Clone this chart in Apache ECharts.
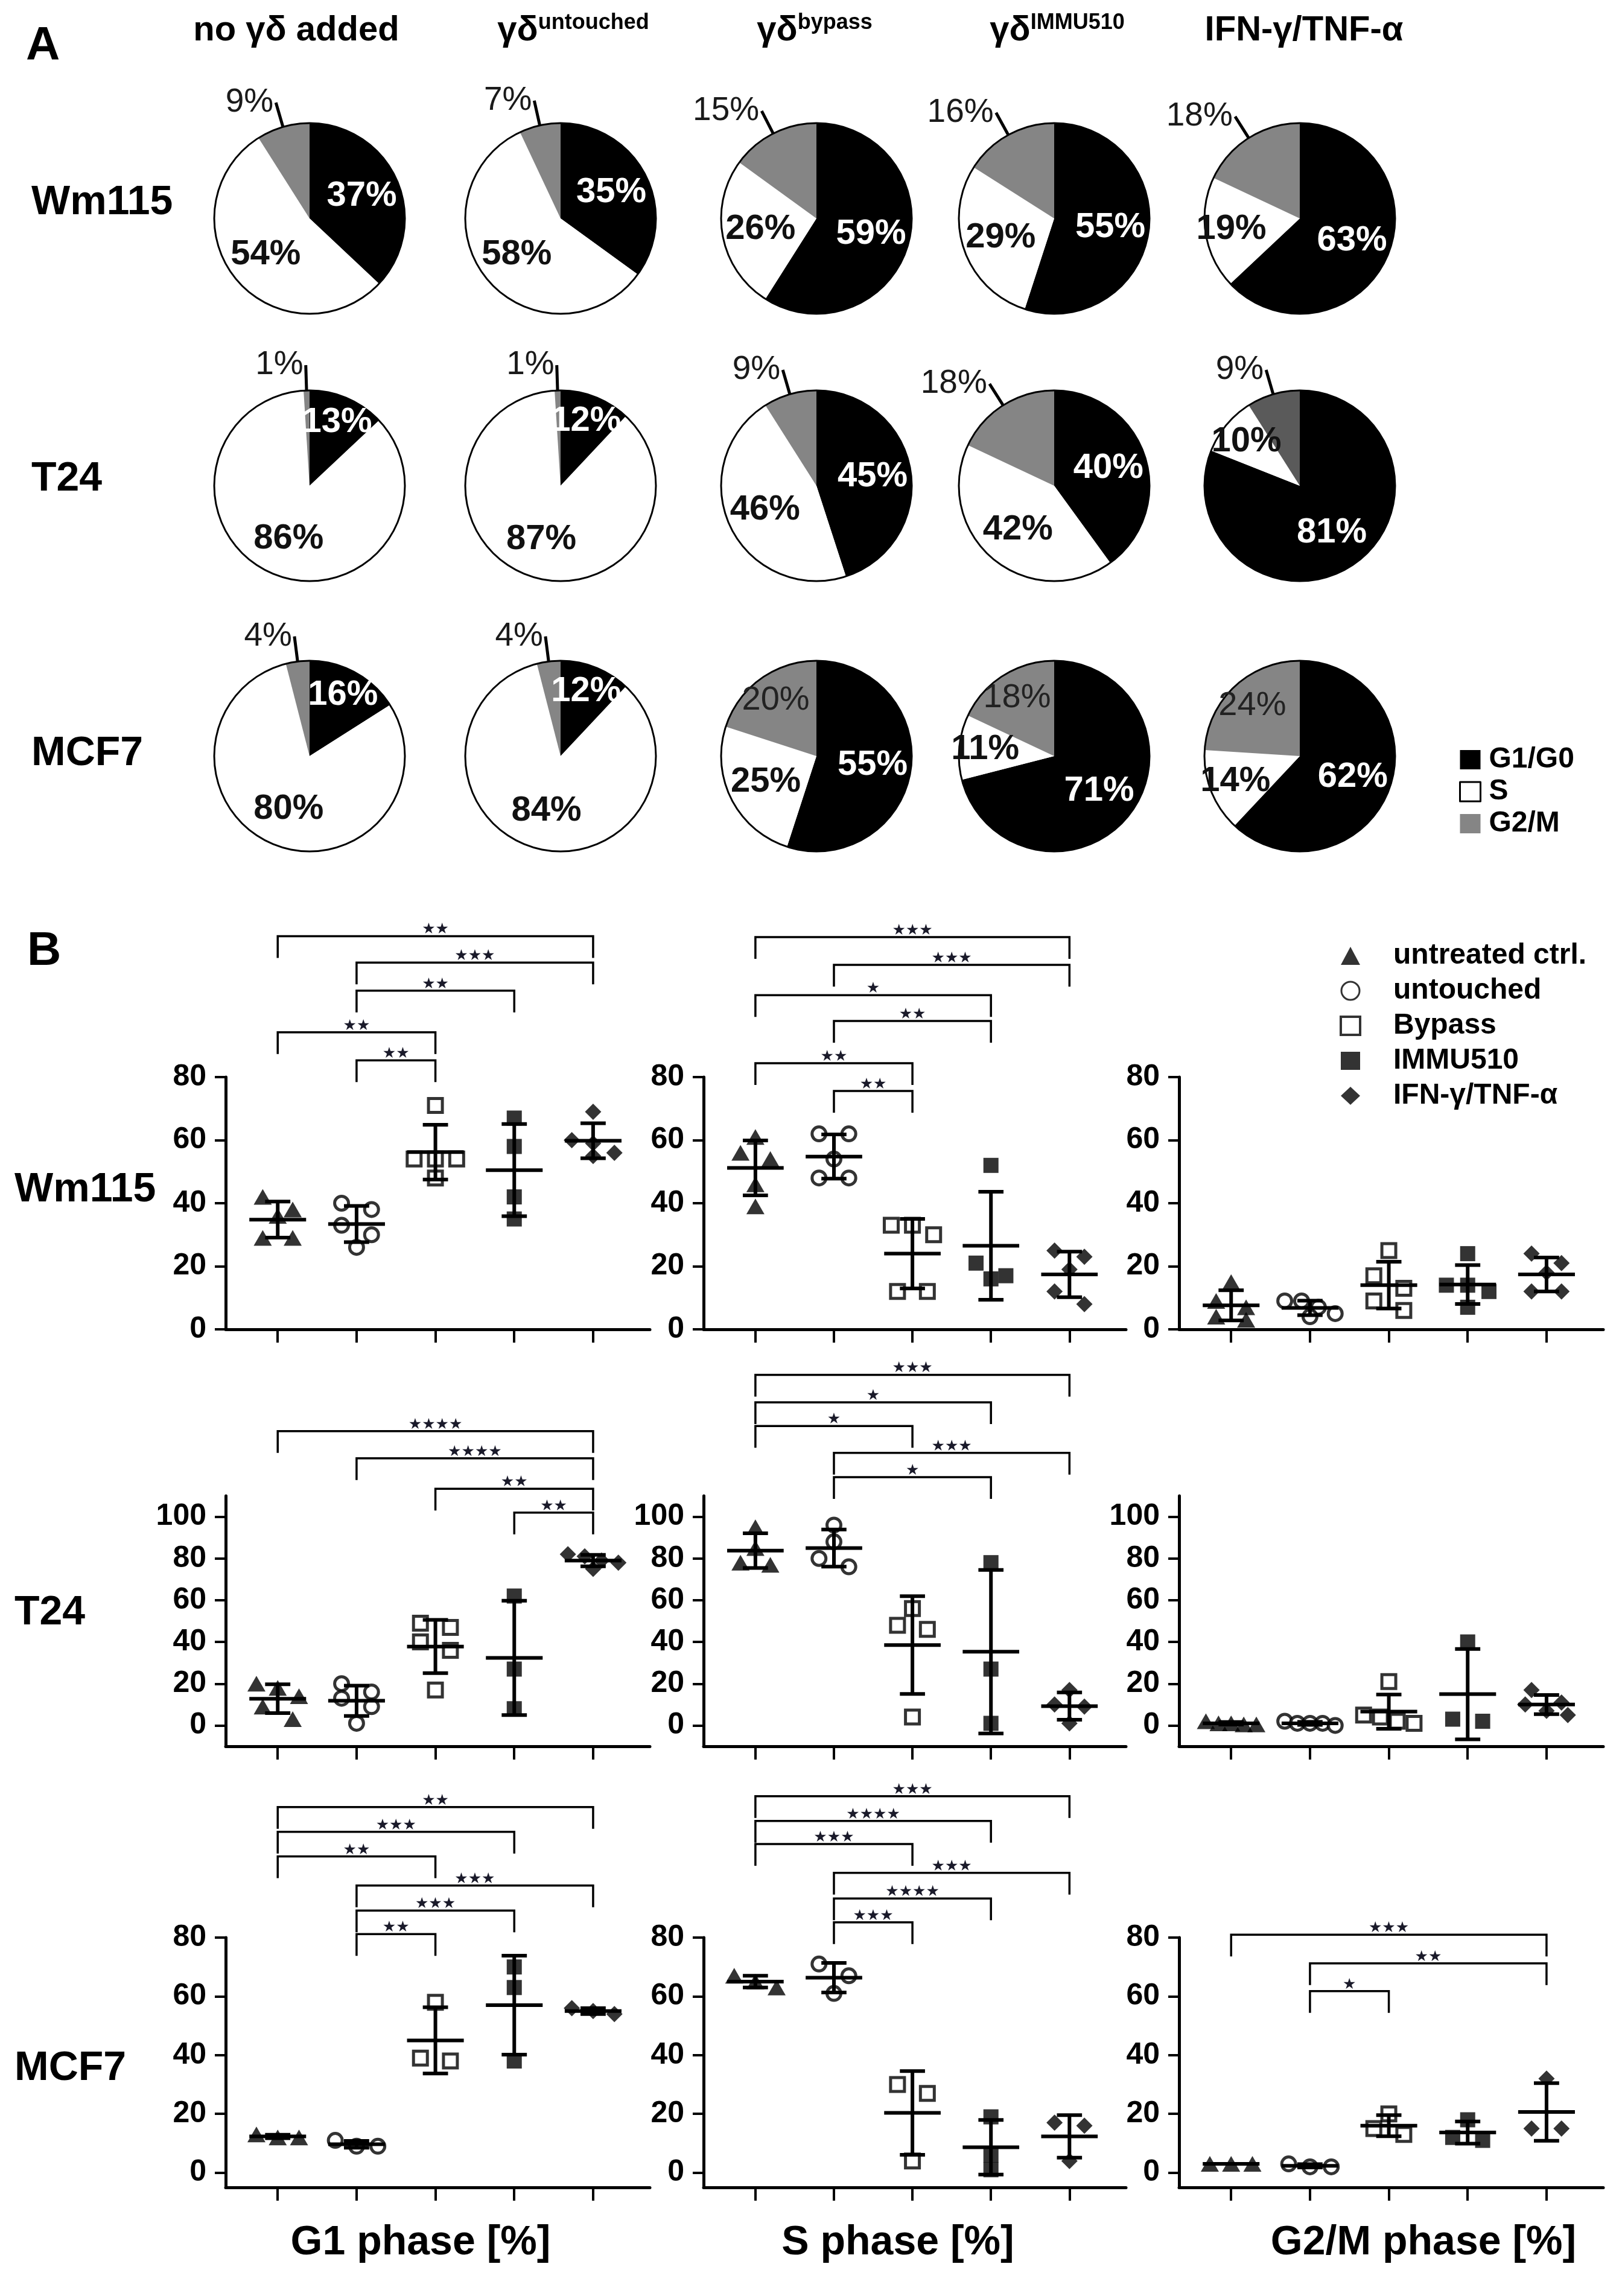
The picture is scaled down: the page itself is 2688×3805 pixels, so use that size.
<!DOCTYPE html>
<html><head><meta charset="utf-8">
<script src="https://cdn.jsdelivr.net/npm/echarts@6/dist/echarts.min.js"></script>
<style>html,body{margin:0;padding:0;background:#fff}#c{width:2688px;height:3805px}</style>
</head><body><div id="c"></div>
<script>
// ================= DATA =================
const pieHeaders = ['no γδ added', 'γδ', 'γδ', 'γδ', 'IFN-γ/TNF-α'];
const pieHeaderSup = ['', 'untouched', 'bypass', 'IMMU510', ''];
const cellLines = ['Wm115', 'T24', 'MCF7'];
const phases = ['G1/G0', 'S', 'G2/M'];
// [G1/G0, S, G2/M] per column
const pieWm115 = [[37,54,9],[35,58,7],[59,26,15],[55,29,16],[63,19,18]];
const pieT24   = [[13,86,1],[12,87,1],[45,46,9],[40,42,18],[81,10,9]];
const pieMCF7  = [[16,80,4],[12,84,4],[55,25,20],[71,11,18],[62,14,24]];

const groups = ['untreated ctrl.', 'untouched', 'Bypass', 'IMMU510', 'IFN-γ/TNF-α'];
const phaseTitles = ['G1 phase [%]', 'S phase [%]', 'G2/M phase [%]'];
const yTicksWm115 = [0,20,40,60,80];
const yTicksT24 = [0,20,40,60,80,100];
const yTicksMCF7 = [0,20,40,60,80];

// individual replicate values per group
const wm115_G1  = [[42,38,36,29,29],[40,38,33,30,26],[71,54,54,54,48],[67,58,42,35],[69,60,59,56,55]];
const wm115_S   = [[61,56,54,46,39],[62,62,54,48,48],[33,33,30,12,12],[52,21,17,16],[25,23,19,12,8]];
const wm115_G2M = [[15,9,7,4,3],[9,9,7,5,4],[25,17,13,9,6],[24,14,14,12,7],[24,21,18,12,12]];
const t24_G1    = [[20,18,14,9,3],[20,16,13,9,1],[49,47,40,36,17],[62,27,8],[82,81,79,78,75]];
const t24_S     = [[95,85,78,77],[96,88,80,76],[56,48,46,4],[78,27,1],[17,10,9,1]];
const t24_G2M   = [[2,1,1,0.5,0.5],[2,1,1,1,0],[21,5,4,2,1],[40,3,2],[17,11,10,7,5]];
const mcf7_G1   = [[13,12,12],[11,9,9],[58,39,38],[70,63,38],[56,55,54]];
const mcf7_S    = [[67,65,63],[71,67,61],[30,27,4],[19,6,1],[17,16,4]];
const mcf7_G2M  = [[3,3,3],[3,2,2],[20,15,13],[18,12,11],[32,15,15]];

// significance brackets: [fromGroup, toGroup, bracket level (y units), label]
const wm115_G1_sig = [[1,5,124.7,'**'],[2,5,116.3,'***'],[2,4,107.4,'**'],[1,3,94.2,'**'],[2,3,85.3,'**']];
const wm115_S_sig  = [[1,5,124.4,'***'],[2,5,115.6,'***'],[1,4,106,'*'],[2,4,97.8,'**'],[1,3,84.4,'**'],[2,3,75.6,'**']];
const t24_G1_sig   = [[1,5,141,'****'],[2,5,128,'****'],[3,5,113.4,'**'],[4,5,102,'**']];
const t24_S_sig    = [[1,5,168,'***'],[1,4,154.8,'*'],[1,3,143.5,'*'],[2,5,130.6,'***'],[2,4,119,'*']];
const mcf7_G1_sig  = [[1,5,124.4,'**'],[1,4,116,'***'],[1,3,107.6,'**'],[2,5,97.7,'***'],[2,4,89.2,'***'],[2,3,81.2,'**']];
const mcf7_S_sig   = [[1,5,128.1,'***'],[1,4,119.7,'****'],[1,3,111.8,'***'],[2,5,102,'***'],[2,4,93.3,'****'],[2,3,85.2,'***']];
const mcf7_G2M_sig = [[1,5,81,'***'],[2,5,71.2,'**'],[2,3,61.8,'*']];

// ================= LAYOUT / STYLE =================
const FONT = "'Liberation Sans', Arial, sans-serif";
const pieCX = [513, 929, 1353, 1747, 2154], pieCY = [362, 805, 1253], PIE_R = 158;
const outsideG2M = [[1,1,1,1,1],[1,1,1,1,1],[1,1,0,0,0]];
const colLeft = [374, 1166, 1954], colWidth = [703, 700, 703];
const rowTop = [1785, 2479, 3211], rowHeight = [418, 415, 414];
const rowRange = [[0,80],[-10,110],[-5,80]];
const X_MIN = 0.34, X_MAX = 5.72;

const pies = [pieWm115, pieT24, pieMCF7];
const plotVals = [[wm115_G1, wm115_S, wm115_G2M],[t24_G1, t24_S, t24_G2M],[mcf7_G1, mcf7_S, mcf7_G2M]];
const plotSig = [[wm115_G1_sig, wm115_S_sig, []],[t24_G1_sig, t24_S_sig, []],[mcf7_G1_sig, mcf7_S_sig, mcf7_G2M_sig]];
const rowTicks = [yTicksWm115, yTicksT24, yTicksMCF7];

const symStyles = [
  {symbol:'triangle', symbolSize:[30,26], itemStyle:{color:'#000'}},
  {symbol:'circle', symbolSize:23, itemStyle:{color:'#fff', borderColor:'#000', borderWidth:5}},
  {symbol:'rect', symbolSize:23, itemStyle:{color:'#fff', borderColor:'#000', borderWidth:5}},
  {symbol:'rect', symbolSize:25, itemStyle:{color:'#000'}},
  {symbol:'diamond', symbolSize:27, itemStyle:{color:'#000'}}
];

function pieItem(v, k, outside, gray) {
  const it = {name: phases[k], value: v, itemStyle: {color: k === 0 ? '#000' : (k === 1 ? '#fff' : gray)}};
  if (k === 0) it.label = {position:'inside', color:'#fff', fontWeight:'bold', fontSize:58};
  else if (k === 1) it.label = {position:'inside', color:'#111', fontWeight:'bold', fontSize:58};
  else if (outside) {
    it.label = {position:'outside', color:'#1a1a1a', fontWeight:'normal', fontSize:55, distanceToLabelLine:4};
    it.labelLine = {show:true, length:42, length2:0, lineStyle:{color:'#000', width:5}};
  } else it.label = {position:'inside', color:'#222', fontWeight:'normal', fontSize:56};
  return it;
}

function jitter(vals, pxPerUnit) {
  const idx = vals.map((v, i) => i).sort((a, b) => vals[b] - vals[a]);
  const out = new Array(vals.length).fill(0);
  let i = 0;
  while (i < idx.length) {
    let j = i + 1;
    while (j < idx.length && (vals[idx[i]] - vals[idx[j]]) * pxPerUnit < 22) j++;
    const n = j - i;
    const sp = n === 1 ? 0 : Math.min(n === 2 ? 0.38 : 0.27, 0.64 / (n - 1));
    for (let k = i; k < j; k++) out[idx[k]] = (k - i - (n - 1) / 2) * sp;
    i = j;
  }
  return out;
}
function meanSd(a) {
  const m = a.reduce((s, v) => s + v, 0) / a.length;
  const sd = Math.sqrt(a.reduce((s, v) => s + (v - m) * (v - m), 0) / (a.length - 1));
  return [m, sd];
}
function lineEl(x1, y1, x2, y2, w) {
  return {type:'line', shape:{x1, y1, x2, y2}, style:{stroke:'#000', lineWidth:w}};
}
function errRender(params, api) {
  const x = api.value(0), m = api.value(1), sd = api.value(2);
  const pm = api.coord([x, m]), pt = api.coord([x, m + sd]), pb = api.coord([x, m - sd]);
  const hw = api.size([0.36, 0])[0], cw = api.size([0.16, 0])[0];
  return {type:'group', children:[
    lineEl(pm[0] - hw, pm[1], pm[0] + hw, pm[1], 6),
    lineEl(pt[0], pt[1], pb[0], pb[1], 6),
    lineEl(pt[0] - cw, pt[1], pt[0] + cw, pt[1], 6),
    lineEl(pb[0] - cw, pb[1], pb[0] + cw, pb[1], 6)
  ]};
}
function makeSigRender(sig) {
  return function (params, api) {
    const a = api.coord([api.value(0), api.value(2)]);
    const b = api.coord([api.value(1), api.value(2)]);
    const leg = 36;
    const stars = sig[params.dataIndex][3].replace(/\*/g, '★');
    return {type:'group', children:[
      {type:'polyline', shape:{points:[[a[0], a[1] + leg], [a[0], a[1]], [b[0], b[1]], [b[0], b[1] + leg]]},
       style:{stroke:'#000', lineWidth:3.5, fill:null}},
      {type:'text', x:(a[0] + b[0]) / 2, y:a[1] + 2,
       style:{text:stars, align:'center', verticalAlign:'bottom', textAlign:'center', textVerticalAlign:'bottom',
              font:'25px "DejaVu Sans"', fill:'#1a1a2a'}}
    ]};
  };
}

const series = [], grid = [], xAxis = [], yAxis = [];

// ---- Panel A: pies ----
pies.forEach((rowVals, r) => rowVals.forEach((vals, c) => {
  const cx = pieCX[c], cy = pieCY[r];
  const out = outsideG2M[r][c] === 1;
  const gray = (r === 1 && c === 4) ? '#5a5a5a' : '#858585';
  series.push({
    type:'pie', silent:true, animation:false, center:[cx, cy], radius:[0, PIE_R],
    startAngle:90, clockwise:true, avoidLabelOverlap:false,
    label:{show:true, formatter:'{c}%', fontFamily:FONT, fontSize:58},
    labelLine:{show:false},
    data: vals.map((v, k) => pieItem(v, k, out, gray)),
    labelLayout: function (p) {
      if (p.dataIndex === 2 && out) return;
      const v = vals[p.dataIndex];
      const k = v < 25 ? 1.4 : 1.15;
      const lr = p.labelRect;
      const lx = lr.x + lr.width / 2, ly = lr.y + lr.height / 2;
      return {x: cx + (lx - cx) * k, y: cy + (ly - cy) * k, align:'center', verticalAlign:'middle'};
    }
  });
  series.push({
    type:'pie', silent:true, animation:false, center:[cx, cy], radius:[PIE_R - 1.5, PIE_R + 1.5],
    label:{show:false}, labelLine:{show:false},
    data:[{value:1, name:'outline', itemStyle:{color:'#000'}}]
  });
}));

// ---- Panel B: scatter dot plots ----
for (let r = 0; r < 3; r++) {
  for (let c = 0; c < 3; c++) {
    const gi = r * 3 + c;
    const [ymin, ymax] = rowRange[r];
    grid.push({left:colLeft[c], top:rowTop[r], width:colWidth[c], height:rowHeight[r]});
    xAxis.push({
      type:'value', gridIndex:gi, min:X_MIN, max:X_MAX,
      axisLine:{show:true, onZero:false, lineStyle:{color:'#000', width:5}},
      axisTick:{show:true, customValues:[1,2,3,4,5], length:22, lineStyle:{color:'#000', width:4}},
      axisLabel:{show:false}, splitLine:{show:false}
    });
    yAxis.push({
      type:'value', gridIndex:gi, min:ymin, max:ymax,
      axisLine:{show:true, onZero:false, lineStyle:{color:'#000', width:5}},
      axisTick:{show:true, customValues:rowTicks[r], length:18, lineStyle:{color:'#000', width:4}},
      axisLabel:{show:true, customValues:rowTicks[r], fontFamily:FONT, fontSize:50, fontWeight:'bold', color:'#000', margin:32},
      splitLine:{show:false}
    });
    const ppu = rowHeight[r] / (ymax - ymin);
    const vals5 = plotVals[r][c];
    groups.forEach((gName, g) => {
      const vals = vals5[g];
      const off = jitter(vals, ppu);
      series.push(Object.assign({
        type:'scatter', name:gName, xAxisIndex:gi, yAxisIndex:gi, silent:true, animation:false, z:3,
        data: vals.map((v, i) => [g + 1 + off[i], v])
      }, JSON.parse(JSON.stringify(symStyles[g]))));
    });
    series.push({
      type:'custom', xAxisIndex:gi, yAxisIndex:gi, silent:true, animation:false, z:4,
      data: vals5.map((vals, g) => { const [m, sd] = meanSd(vals); return [g + 1, m, sd]; }),
      renderItem: errRender
    });
    const sig = plotSig[r][c];
    if (sig.length) {
      series.push({
        type:'custom', xAxisIndex:gi, yAxisIndex:gi, silent:true, animation:false, z:4,
        data: sig.map(s => [s[0], s[1], s[2]]),
        renderItem: makeSigRender(sig)
      });
    }
  }
}

// ---- texts ----
const graphic = [];
function txt(text, x, y, size, weight, align, extra) {
  graphic.push(Object.assign({type:'text', x, y, silent:true, style:Object.assign({
    text, font: weight + ' ' + size + 'px ' + FONT, fill:'#000',
    align, verticalAlign:'middle', textAlign:align, textVerticalAlign:'middle'
  }, extra || {})}));
}
txt('A', 43, 77, 78, 'bold', 'left');
txt('B', 45, 1577, 78, 'bold', 'left');
const headerX = [491, 950, 1350, 1752, 2161];
pieHeaders.forEach((h, i) => {
  if (pieHeaderSup[i]) {
    txt(h + '{sup|' + pieHeaderSup[i] + '}', headerX[i], 51, 58, 'bold', 'center',
      {lineHeight:62, rich:{sup:{fontSize:36, fontWeight:'bold', fontFamily:FONT, verticalAlign:'top', lineHeight:62, padding:[0,0,22,0]}}});
  } else {
    txt(h, headerX[i], 51, 58, 'bold', 'center');
  }
});
const aRowY = [336, 794, 1249];
cellLines.forEach((n, i) => txt(n, 52, aRowY[i], 68, 'bold', 'left'));
const bRowY = [1972, 2673, 3428];
cellLines.forEach((n, i) => txt(n, 24, bRowY[i], 68, 'bold', 'left'));
const titleX = [697, 1488, 2359];
phaseTitles.forEach((t, i) => txt(t, titleX[i], 3717, 68, 'bold', 'center'));

const option = {
  backgroundColor:'#fff',
  animation:false,
  grid, xAxis, yAxis, series, graphic,
  legend:[
    {
      data:[{name:'G1/G0', itemStyle:{color:'#000'}},
            {name:'S', itemStyle:{color:'#fff', borderColor:'#000', borderWidth:3}},
            {name:'G2/M', itemStyle:{color:'#858585'}}],
      orient:'vertical', left:2413, top:1230, itemWidth:34, itemHeight:32, itemGap:5, icon:'rect',
      selectedMode:false,
      textStyle:{fontFamily:FONT, fontSize:48, fontWeight:'bold', color:'#000', lineHeight:48, padding:[0,0,0,9]}
    },
    {
      data: groups.map((g, i) => i === 1 ? {name:g, itemStyle:{borderWidth:3}} : (i === 2 ? {name:g, itemStyle:{borderWidth:4}} : {name:g})),
      orient:'vertical', left:2215, top:1555, itemWidth:32, itemHeight:30, itemGap:10,
      selectedMode:false,
      textStyle:{fontFamily:FONT, fontSize:48, fontWeight:'bold', color:'#000', lineHeight:48, padding:[0,0,0,50]}
    }
  ]
};
const chart = echarts.init(document.getElementById('c'), null, {renderer:'canvas', width:2688, height:3805});
chart.setOption(option);
</script>
</body></html>
